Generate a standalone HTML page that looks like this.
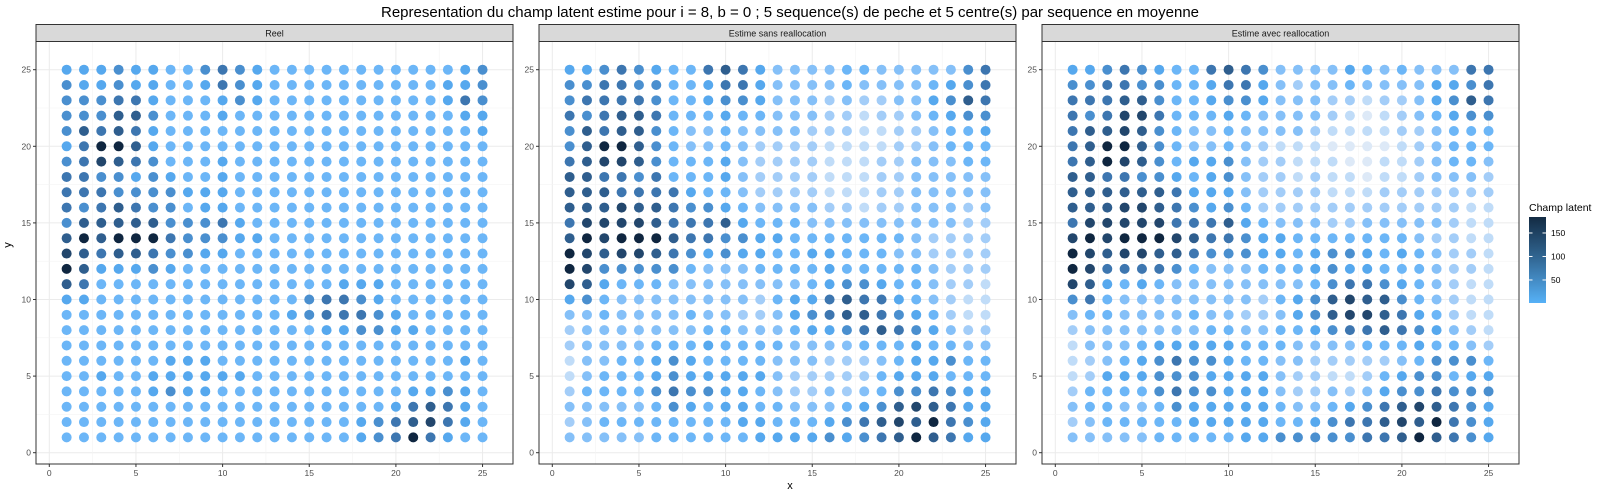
<!DOCTYPE html>
<html><head><meta charset="utf-8"><style>
html,body{margin:0;padding:0;background:#fff;}
svg{display:block;font-family:"Liberation Sans",sans-serif;}
</style></head><body>
<svg id="chart" width="1600" height="500" viewBox="0 0 1600 500" xmlns="http://www.w3.org/2000/svg">
<rect width="1600" height="500" fill="#fff"/>
<text x="790" y="17" text-anchor="middle" font-size="15" fill="#000">Representation du champ latent estime pour i = 8, b = 0 ; 5 sequence(s) de peche et 5 centre(s) par sequence en moyenne</text>
<text x="790" y="489" text-anchor="middle" font-size="11" fill="#000">x</text>
<text x="11" y="245" text-anchor="middle" font-size="11" fill="#000" transform="rotate(-90 11 245)">y</text>
<g id="panels"></g>
<g id="legend"></g>
</svg>
<script>
// Panel titles
const panelTitles = ["Reel", "Estime sans reallocation", "Estime avec reallocation"];
// Tick labels
const xTicks = [0, 5, 10, 15, 20, 25];
const yTicks = [0, 5, 10, 15, 20, 25];
const legendTicks = [50, 100, 150];
// Grid coordinates (x = 1..25, y = 25 down to 1)
const xCoords = [1,2,3,4,5,6,7,8,9,10,11,12,13,14,15,16,17,18,19,20,21,22,23,24,25];
const yRows = [25,24,23,22,21,20,19,18,17,16,15,14,13,12,11,10,9,8,7,6,5,4,3,2,1];
// Level codes per row (0..a), each level ~18 units of latent field
const reelRows = [
"5556554467654444444444456",
"6556554457654444444444556",
"6667754445654444444444576",
"6668864445444444444444455",
"6878754444444444444444445",
"57aa854444444444444444444",
"6798764445444444444444444",
"7766565445444444444444444",
"7776666555444444444444444",
"7678766455444444444444444",
"6888886667544444444444444",
"8a8aaa7666554444444444444",
"9878876655444444444444444",
"a855565444444444444444444",
"8744444444444444555444444",
"5544444444444467765444444",
"4444444444444567776544444",
"4444444444444445566554444",
"4444444444444444444444444",
"4444445554444444444444454",
"4454455555544444444444444",
"4444456554444444444455654",
"4444444444444444444578754",
"4444444444444444456789754",
"44444444444444444567a7544"];
const sansRows = [
"5567654478753333443333367",
"6677664457753333433334567",
"6777764456653332322335687",
"7678874445443332212234566",
"6878864334333322211223445",
"68aa864334322221111223444",
"7899864445322221112233344",
"8877674445322221112233333",
"8887777544322221112233333",
"8889887665433332212233323",
"7999987778544433333333322",
"8a9aaa8776655444444432222",
"a989987656554455444332222",
"a966666433344445444443222",
"9854443333333345665443221",
"5643333333324557877543211",
"3343333433223567887654211",
"2333333344333455678765322",
"2333344454444333344454433",
"1334456544443332223455644",
"1344456555553222224555444",
"2444467665543223234667655",
"3333346545544333456898755",
"234444444455444567898a765",
"33333444444555565678a8755"];
const avecRows = [
"5567654478763333543433377",
"6677664457753233433335567",
"7778864456653332212235687",
"7679974445433332101234566",
"7889864334333321111223444",
"78aa864334321110000123444",
"78a9864556322111001123443",
"8877665456322121101123332",
"8888887555322221112222222",
"8889987656422222222222211",
"7999997778543332233333211",
"9a9aaa9877655444444432211",
"a989988766655456654543221",
"a977776433344456554443221",
"9854543333333346776543211",
"6743333333324568988643211",
"3443333433223568998754211",
"2333333344334456778765321",
"1333455555444333344454432",
"1234567665443322222346664",
"1255566655553221124566455",
"2444467665553223235667666",
"3443346555554334567898765",
"234444455555445677898a765",
"33333444445566666778a8765"];
const panelRows = [reelRows, sansRows, avecRows];

const NS = "http://www.w3.org/2000/svg";
function mk(tag, attrs, parent) {
  const e = document.createElementNS(NS, tag);
  for (const k in attrs) e.setAttribute(k, attrs[k]);
  if (parent) parent.appendChild(e);
  return e;
}
function levelValue(ch) { return parseInt(ch, 16) * 18 + 1; }
const stops = [[1,"#dde9f7"],[19,"#c0dcf8"],[37,"#a3cdf8"],[55,"#85c0f8"],[73,"#6cb6f7"],[91,"#56a8ee"],[109,"#4a8fcf"],[127,"#3d76b0"],[145,"#2f5e8e"],[163,"#22466c"],[181,"#0f2640"]];
function hex2rgb(h){return [1,3,5].map(i=>parseInt(h.substr(i,2),16));}
function colorFor(v) {
  if (v <= stops[0][0]) return stops[0][1];
  for (let i = 1; i < stops.length; i++) {
    if (v <= stops[i][0]) {
      const a = hex2rgb(stops[i-1][1]), b = hex2rgb(stops[i][1]);
      const t = (v - stops[i-1][0]) / (stops[i][0] - stops[i-1][0]);
      return "rgb(" + a.map((c,j)=>Math.round(c + (b[j]-c)*t)).join(",") + ")";
    }
  }
  return stops[stops.length-1][1];
}

const PLOT_TOP = 41.5, PLOT_BOTTOM = 464, PW = 477, STRIP_TOP = 24.5;
function panelLeft(k) { return 36 + k * 503; }
function xScale(k, x) { return panelLeft(k) + 13.3 + x * 17.33; }
function yScale(y) { return 452.7 - y * 15.32; }

const panelsG = document.getElementById("panels");
panelTitles.forEach((title, k) => {
  const L = panelLeft(k);
  const g = mk("g", {}, panelsG);
  
  
  // grid
  for (let v = 0; v <= 25; v += 2.5) {
    const major = v % 5 === 0;
    const gx = xScale(k, v), gy = yScale(v);
    mk("line", {x1: gx, x2: gx, y1: PLOT_TOP, y2: PLOT_BOTTOM, stroke: major ? "#ebebeb" : "#f3f3f3", "stroke-width": major ? 1 : 0.6}, g);
    mk("line", {x1: L, x2: L + PW, y1: gy, y2: gy, stroke: major ? "#ebebeb" : "#f3f3f3", "stroke-width": major ? 1 : 0.6}, g);
  }
  // points
  const rows = panelRows[k];
  yRows.forEach((yv, ri) => {
    const row = rows[ri];
    xCoords.forEach((xv, ci) => {
      const val = levelValue(row[ci] || "4");
      const c = mk("circle", {cx: xScale(k, xv), cy: yScale(yv), r: 5, fill: colorFor(val)}, g);
      
      
    });
  });
  // border
  mk("rect", {x: L, y: PLOT_TOP, width: PW, height: PLOT_BOTTOM - PLOT_TOP, fill: "none", stroke: "#333", "stroke-width": 1}, g);
  // strip
  const s = mk("rect", {x: L, y: STRIP_TOP, width: PW, height: PLOT_TOP - STRIP_TOP, fill: "#d9d9d9", stroke: "#333", "stroke-width": 1}, g);
  
  
  const st = mk("text", {x: L + PW / 2, y: 36.5, "text-anchor": "middle", "font-size": 9, fill: "#1a1a1a"}, g);
  st.textContent = title;
  
  
  // x ticks
  xTicks.forEach(t => {
    const tx = xScale(k, t);
    mk("line", {x1: tx, x2: tx, y1: PLOT_BOTTOM, y2: PLOT_BOTTOM + 3, stroke: "#333"}, g);
    const lt = mk("text", {x: tx, y: PLOT_BOTTOM + 12, "text-anchor": "middle", "font-size": 8.5, fill: "#4d4d4d"}, g);
    lt.textContent = t;
    
    
  });
  // y ticks
  yTicks.forEach(t => {
    const ty = yScale(t);
    mk("line", {x1: L - 3, x2: L, y1: ty, y2: ty, stroke: "#333"}, g);
    const lt = mk("text", {x: L - 5, y: ty + 3, "text-anchor": "end", "font-size": 8.5, fill: "#4d4d4d"}, g);
    lt.textContent = t;
    
    
  });
});

// legend
const lg = document.getElementById("legend");
const defs = mk("defs", {}, lg);
const grad = mk("linearGradient", {id: "lgrad", x1: 0, y1: 1, x2: 0, y2: 0}, defs);
mk("stop", {offset: "0", "stop-color": "#56B1F7"}, grad);
mk("stop", {offset: "0.5", "stop-color": "#336A98"}, grad);
mk("stop", {offset: "1", "stop-color": "#132B43"}, grad);
const lt = mk("text", {x: 1529, y: 211, "font-size": 10.5, fill: "#000"}, lg);
lt.textContent = "Champ latent";


const bar = mk("rect", {x: 1529, y: 217, width: 17, height: 86, fill: "url(#lgrad)"}, lg);


function legendY(v) { return 303 - (v - 1) / 183 * 86; }
legendTicks.forEach(t => {
  const y = legendY(t);
  mk("line", {x1: 1529, x2: 1532.5, y1: y, y2: y, stroke: "#fff"}, lg);
  mk("line", {x1: 1542.5, x2: 1546, y1: y, y2: y, stroke: "#fff"}, lg);
  const tx = mk("text", {x: 1551, y: y + 3, "font-size": 8.5, fill: "#000"}, lg);
  tx.textContent = t;
  
  
});
</script>
</body></html>
